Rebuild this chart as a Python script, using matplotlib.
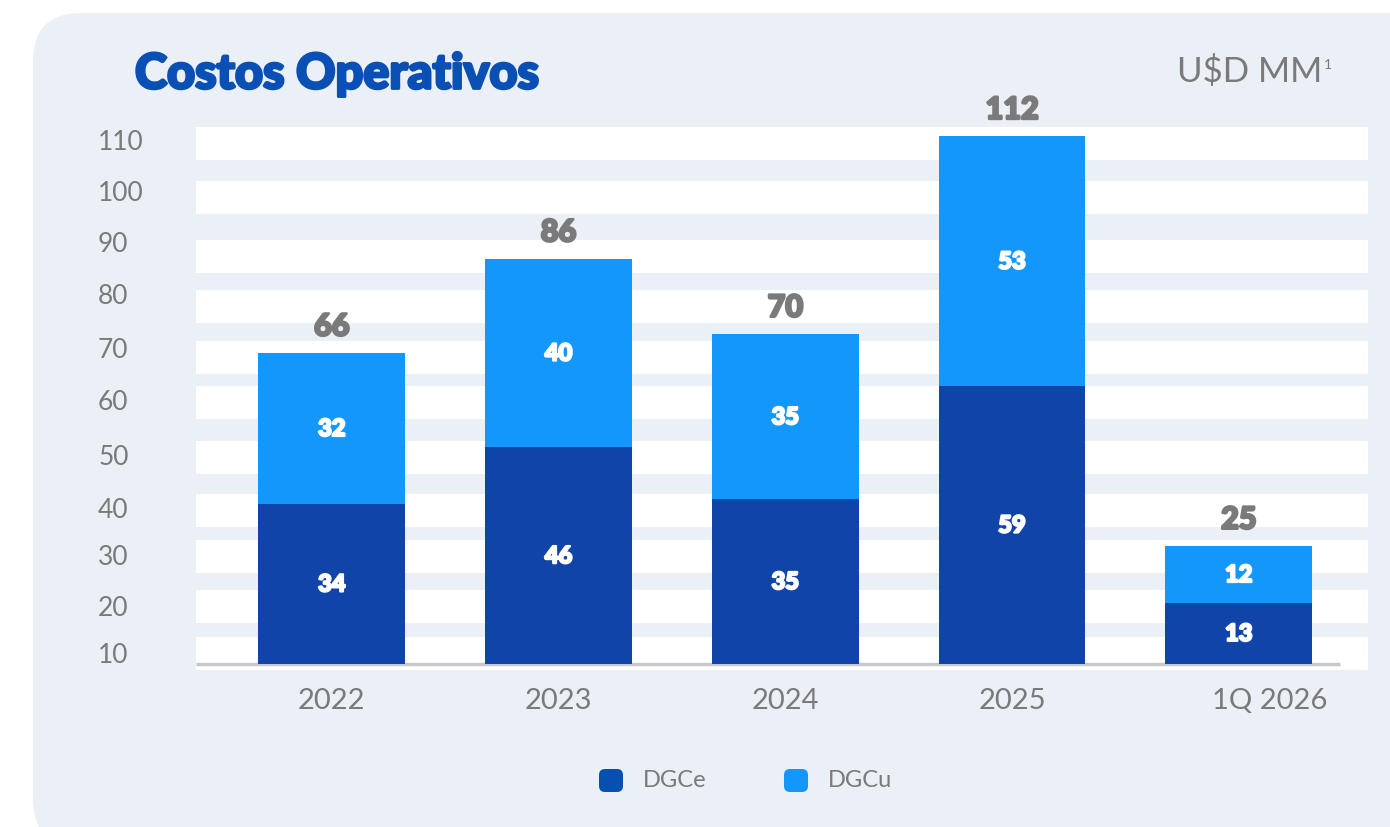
import matplotlib.pyplot as plt
import matplotlib.patheffects as pe
from matplotlib.patches import FancyBboxPatch
from matplotlib.transforms import IdentityTransform, ScaledTranslation

# datos
categorias = ["2022", "2023", "2024", "2025", "1Q 2026"]
dgce = [34, 46, 35, 59, 13]
dgcu = [32, 40, 35, 53, 12]
totales = [66, 86, 70, 112, 25]

# etiquetas del eje y (tal como aparecen en la lámina)
ticks_y = [111.5, 100.6, 89.8, 78.8, 67.3, 56.3, 44.6, 33.3, 23.4, 12.5, 2.5]
rotulos_y = ["110", "100", "90", "80", "70", "60", "50", "40", "30", "20", "10"]

# franjas blancas de fondo (desde, hasta)
franjas = [(107.0, 114.0), (95.5, 102.5), (83.0, 90.0), (72.4, 79.4), (61.6, 68.6),
           (52.0, 59.0), (40.3, 47.3), (29.1, 36.1), (19.3, 26.3), (8.7, 15.7), (-1.3, 5.7)]

cor_dgce = "#1044a8"
cor_dgcu = "#1497fa"
cor_fundo = "#ebf0f7"
cinza = "#7a7a7a"
grosso = [pe.withStroke(linewidth=1.8, foreground=cinza)]

fig = plt.figure(figsize=(13.9, 8.28), dpi=100)
fig.patch.set_facecolor("white")

# panel redondeado
painel = FancyBboxPatch((33, -20), 1450, 834, boxstyle="round,pad=0,rounding_size=48",
                        transform=IdentityTransform(), facecolor=cor_fundo, edgecolor="none", zorder=-5)
fig.patches.append(painel)

ax = fig.add_axes([196 / 1390, 1 - 671 / 828, 1172 / 1390, 543 / 828])
ax.patch.set_visible(False)

for a, b in franjas:
    ax.axhspan(a, b, color="white", lw=0, zorder=0)

x = range(len(categorias))
largura = 0.648
ax.bar(x, dgce, width=largura, color=cor_dgce, zorder=2)
ax.bar(x, dgcu, width=largura, bottom=dgce, color=cor_dgcu, zorder=2)

branco = [pe.withStroke(linewidth=1.6, foreground="white")]
for i in x:
    ax.text(i, dgce[i] / 2, str(dgce[i]), ha="center", va="center", color="white",
            fontsize=17, fontfamily="Lato", fontweight="black", zorder=3, path_effects=branco)
    ax.text(i, dgce[i] + dgcu[i] / 2, str(dgcu[i]), ha="center", va="center", color="white",
            fontsize=17, fontfamily="Lato", fontweight="black", zorder=3, path_effects=branco)
    ax.annotate(str(totales[i]), (i, dgce[i] + dgcu[i]), xytext=(0, 9), textcoords="offset points",
                ha="center", va="bottom", color=cinza, fontsize=22, fontfamily="Lato",
                fontweight="black", zorder=3, path_effects=grosso)

ax.plot([-0.599, 4.447], [0, 0], color="#c8c8c8", lw=2.5, zorder=1, solid_capstyle="butt")

ax.set_xlim(-0.599, 4.570)
ax.set_ylim(-1.27, 114.0)

ax.set_yticks(ticks_y)
ax.set_yticklabels(rotulos_y, fontsize=19, color=cinza, fontfamily="Lato")
ax.tick_params(axis="y", length=0, pad=70.5)
for t in ax.get_yticklabels():
    t.set_horizontalalignment("left")

ax.set_xticks(list(x))
ax.set_xticklabels(categorias, fontsize=21, color=cinza, fontfamily="Lato")
ax.tick_params(axis="x", length=0, pad=12)
ult = ax.get_xticklabels()[-1]
ult.set_transform(ult.get_transform() + ScaledTranslation(31 / 100, 0, fig.dpi_scale_trans))

for s in ax.spines.values():
    s.set_visible(False)

# título y unidad
fig.text(135 / 1390, 1 - 75 / 828, "Costos Operativos", fontsize=35, color="#0a50b4",
         fontfamily="Lato", fontweight="black", va="center", ha="left",
         path_effects=[pe.withStroke(linewidth=2, foreground="#0a50b4")])
fig.text(1322 / 1390, 1 - 72 / 828, "U$D MM", fontsize=25, color=cinza,
         fontfamily="Lato", va="center", ha="right")
fig.text(1324 / 1390, 1 - 65 / 828, "1", fontsize=10, color=cinza,
         fontfamily="Lato", va="center", ha="left")

# leyenda
for (x0, rot, cor) in [(599, "DGCe", "#0550b0"), (784, "DGCu", cor_dgcu)]:
    q = FancyBboxPatch((x0, 35), 24, 23, boxstyle="round,pad=0,rounding_size=6",
                       transform=IdentityTransform(), facecolor=cor, edgecolor="none")
    fig.patches.append(q)
    fig.text((x0 + 44) / 1390, 47 / 828, rot, fontsize=17, color=cinza,
             fontfamily="Lato", va="center", ha="left")

fig.savefig("out.png", dpi=100)
